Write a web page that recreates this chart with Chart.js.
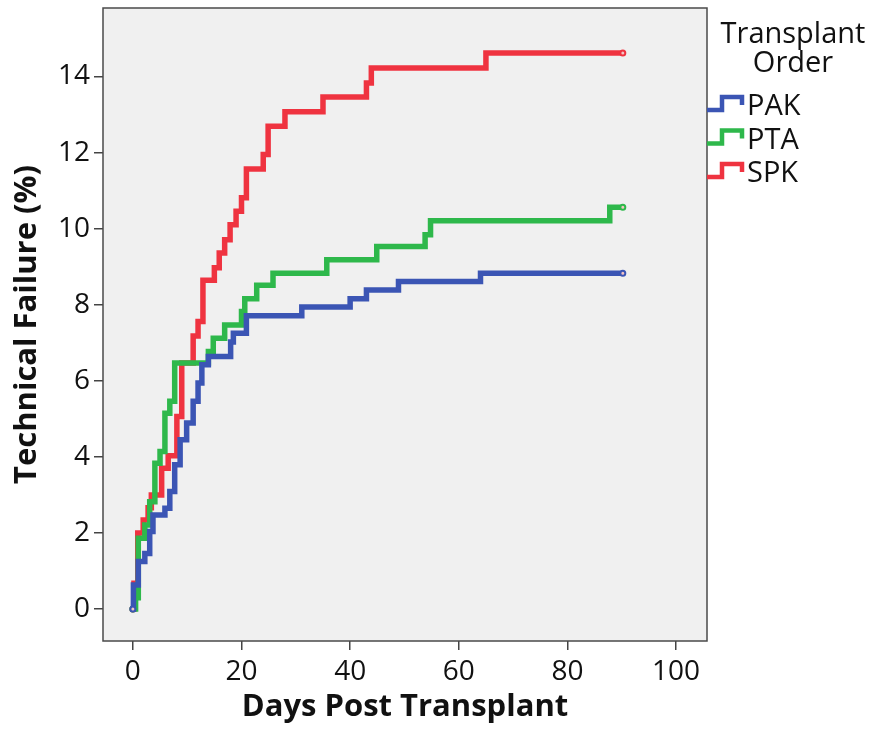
<!DOCTYPE html>
<html lang="en">
<head>
<meta charset="UTF-8">
<title>Technical Failure by Transplant Order</title>
<style>
  body { margin: 0; background: #ffffff; }
  .wrap { width: 875px; height: 733px; }
</style>
</head>
<body>
<div class="wrap"><canvas id="kmChart" width="875" height="733"></canvas></div>

<script src="https://cdn.jsdelivr.net/npm/chart.js"></script>
<script>
// cumulative technical failure (%) by days post transplant, one entry per step
const groups = ['PAK', 'PTA', 'SPK'];
const colors = ['#3b55b4', '#2eb84b', '#ef3340'];

const pakDays = [0, 0.1, 1.0, 2.2, 3.1, 3.7, 5.9, 6.8, 7.7, 8.7, 9.9, 11.1, 12.0, 12.7, 13.9, 18.0, 18.5, 20.9, 31.1, 40.0, 43.0, 48.9, 64.0, 90.2];
const pakPct  = [0, 0.63, 1.25, 1.46, 2.04, 2.47, 2.65, 3.09, 3.79, 4.45, 4.89, 5.46, 5.94, 6.42, 6.64, 7.02, 7.25, 7.71, 7.94, 8.16, 8.39, 8.61, 8.83, 8.83];

const ptaDays = [0, 0.5, 1.0, 2.2, 3.1, 4.05, 5.0, 5.9, 6.8, 7.7, 13.9, 14.8, 16.9, 20.0, 20.6, 22.8, 25.8, 35.7, 44.9, 53.8, 54.8, 87.8, 90.2];
const ptaPct  = [0, 0.3, 1.86, 2.21, 2.82, 3.83, 4.14, 5.15, 5.46, 6.47, 6.77, 7.12, 7.47, 7.82, 8.16, 8.51, 8.83, 9.18, 9.53, 9.84, 10.21, 10.56, 10.56];

const spkDays = [0, 0.2, 0.9, 1.9, 2.8, 3.4, 5.3, 6.5, 8.1, 9.0, 11.1, 12.0, 12.9, 15.0, 15.9, 16.9, 17.9, 19.0, 20.0, 20.9, 24.0, 24.9, 28.0, 35.0, 43.0, 43.9, 65.0, 90.2];
const spkPct  = [0, 0.68, 2.0, 2.34, 2.66, 3.0, 3.7, 4.03, 5.06, 6.47, 7.18, 7.56, 8.64, 8.97, 9.36, 9.71, 10.1, 10.46, 10.81, 11.57, 11.95, 12.69, 13.07, 13.46, 13.83, 14.22, 14.62, 14.62];

const xTicks = [0, 20, 40, 60, 80, 100];
const yTicks = [0, 2, 4, 6, 8, 10, 12, 14];

const FONT = '"Open Sans", "Noto Sans", sans-serif';

function toPoints(days, pct) {
    return days.map((d, i) => ({ x: d, y: pct[i] }));
}

function makeSet(label, days, pct, color) {
    const last = days.length - 1;
    return {
        label: label,
        data: toPoints(days, pct),
        borderColor: color,
        borderWidth: 5.5,
        stepped: 'before',
        borderJoinStyle: 'miter',
        borderCapStyle: 'butt',
        fill: false,
        // censor marks at start and end of each curve
        pointRadius: ctx => (ctx.dataIndex === 0 || ctx.dataIndex === last) ? 2.5 : 0,
        pointBackgroundColor: '#f3c4c4',
        pointBorderColor: color,
        pointBorderWidth: 2
    };
}

// grey plot box with a thin frame
const plotBox = {
    id: 'plotBox',
    beforeDraw(chart) {
        const { ctx, chartArea: a } = chart;
        ctx.save();
        ctx.fillStyle = '#f0f0f0';
        ctx.fillRect(a.left, a.top, a.right - a.left, a.bottom - a.top);
        ctx.restore();
    },
    beforeDatasetsDraw(chart) {
        const { ctx, chartArea: a } = chart;
        ctx.save();
        ctx.strokeStyle = '#4a4a4a';
        ctx.lineWidth = 1.5;
        ctx.strokeRect(a.left, a.top, a.right - a.left, a.bottom - a.top);
        ctx.restore();
    }
};

// legend on the right with step-shaped keys
const orderLegend = {
    id: 'orderLegend',
    afterDraw(chart) {
        const ctx = chart.ctx;
        ctx.save();
        ctx.font = '29px ' + FONT;
        ctx.fillStyle = '#111';
        ctx.textBaseline = 'alphabetic';
        ctx.textAlign = 'center';
        ctx.fillText('Transplant', 793, 43);
        ctx.fillText('Order', 793, 72);
        ctx.textAlign = 'left';
        groups.forEach((g, i) => {
            const base = 115 + i * 33.5;
            ctx.strokeStyle = colors[i];
            ctx.lineWidth = 4.5;
            ctx.lineJoin = 'miter';
            ctx.beginPath();
            ctx.moveTo(707, base - 5);
            ctx.lineTo(722, base - 5);
            ctx.lineTo(722, base - 18);
            ctx.lineTo(742, base - 18);
            ctx.lineTo(742, base - 10);
            ctx.stroke();
            ctx.fillText(g, 747, base);
        });
        ctx.restore();
    }
};

const ctx = document.getElementById('kmChart').getContext('2d');

new Chart(ctx, {
    type: 'line',
    data: {
        datasets: [
            makeSet(groups[0], pakDays, pakPct, colors[0]),
            makeSet(groups[1], ptaDays, ptaPct, colors[1]),
            makeSet(groups[2], spkDays, spkPct, colors[2])
        ]
    },
    options: {
        responsive: false,
        animation: false,
        layout: { padding: { top: 8, right: 168, left: 0, bottom: 0 } },
        scales: {
            x: {
                type: 'linear',
                min: -5.5,
                max: 105.7,
                afterBuildTicks: s => { s.ticks = xTicks.map(v => ({ value: v })); },
                afterFit: s => { s.height = 92; s.paddingLeft = 0; s.paddingRight = 0; },
                border: { display: false },
                grid: { drawOnChartArea: false, drawTicks: true, tickLength: 9, color: '#444', lineWidth: 1.5 },
                ticks: { font: { family: FONT, size: 28 }, color: '#111', padding: 5, maxRotation: 0 },
                title: {
                    display: true,
                    text: 'Days Post Transplant',
                    font: { family: FONT, size: 31, weight: 'bold' },
                    color: '#111',
                    padding: { top: 0, bottom: 7 }
                }
            },
            y: {
                min: -0.84,
                max: 15.8,
                afterBuildTicks: s => { s.ticks = yTicks.map(v => ({ value: v })); },
                afterFit: s => { s.width = 103; s.paddingTop = 0; s.paddingBottom = 0; },
                border: { display: false },
                grid: { drawOnChartArea: false, drawTicks: true, tickLength: 9, color: '#444', lineWidth: 1.5 },
                ticks: { font: { family: FONT, size: 28 }, color: '#111', padding: 4 },
                title: {
                    display: true,
                    text: 'Technical Failure (%)',
                    font: { family: FONT, size: 31, weight: 'bold' },
                    color: '#111',
                    padding: { top: 9, bottom: 0 }
                }
            }
        },
        plugins: {
            legend: { display: false },
            tooltip: { enabled: false }
        }
    },
    plugins: [plotBox, orderLegend]
});
</script>
</body>
</html>
